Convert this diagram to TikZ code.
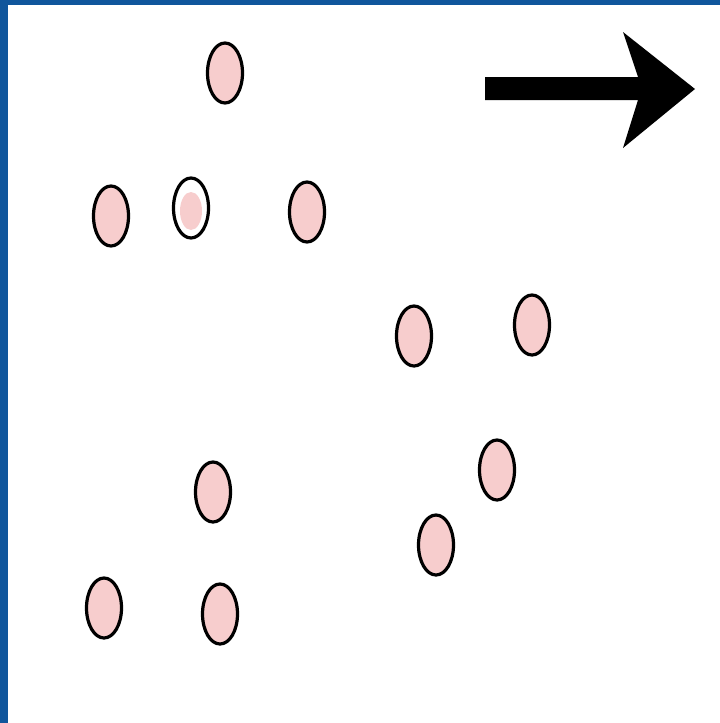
\documentclass[tikz,border=0pt]{standalone}
\usetikzlibrary{shapes.geometric}
\definecolor{slideblue}{RGB}{16,86,156}
\definecolor{cellpink}{RGB}{247,205,205}
\begin{document}
\begin{tikzpicture}[x=1pt,y=-1pt,
  cell/.style={ellipse,draw=black,line width=3.2pt,fill=cellpink,
    minimum width=35pt,minimum height=60pt,inner sep=0pt},
  emptycell/.style={cell,fill=white},
  nucleus/.style={ellipse,fill=cellpink,draw=none,
    minimum width=22pt,minimum height=38pt,inner sep=0pt}]
  % page and frame
  \useasboundingbox (0,0) rectangle (720,723);
  \fill[slideblue] (0,0) rectangle (720,723);
  \fill[white] (8,5) rectangle (720,723);
  % cells
  \node[cell] (c1) at (225,73) {};
  \node[cell] (c2) at (111,216) {};
  \node[emptycell] (c3) at (191,208) {};
  \node[nucleus] (c3n) at (191,211) {};
  \node[cell] (c4) at (307,212) {};
  \node[cell] (c5) at (414,336) {};
  \node[cell] (c6) at (532,325) {};
  \node[cell] (c7) at (497,470) {};
  \node[cell] (c8) at (213,492) {};
  \node[cell] (c9) at (436,545) {};
  \node[cell] (c10) at (104,608) {};
  \node[cell] (c11) at (220,614) {};
  % direction arrow
  \coordinate (tail) at (485,88.5);
  \coordinate (tip) at (695,89);
  \fill[black] (tail) ++(0,-11.5) -- (638,77) -- (623,32) -- (tip)
    -- (623,148) -- (638,100) -- (485,100) -- cycle;
\end{tikzpicture}
\end{document}
